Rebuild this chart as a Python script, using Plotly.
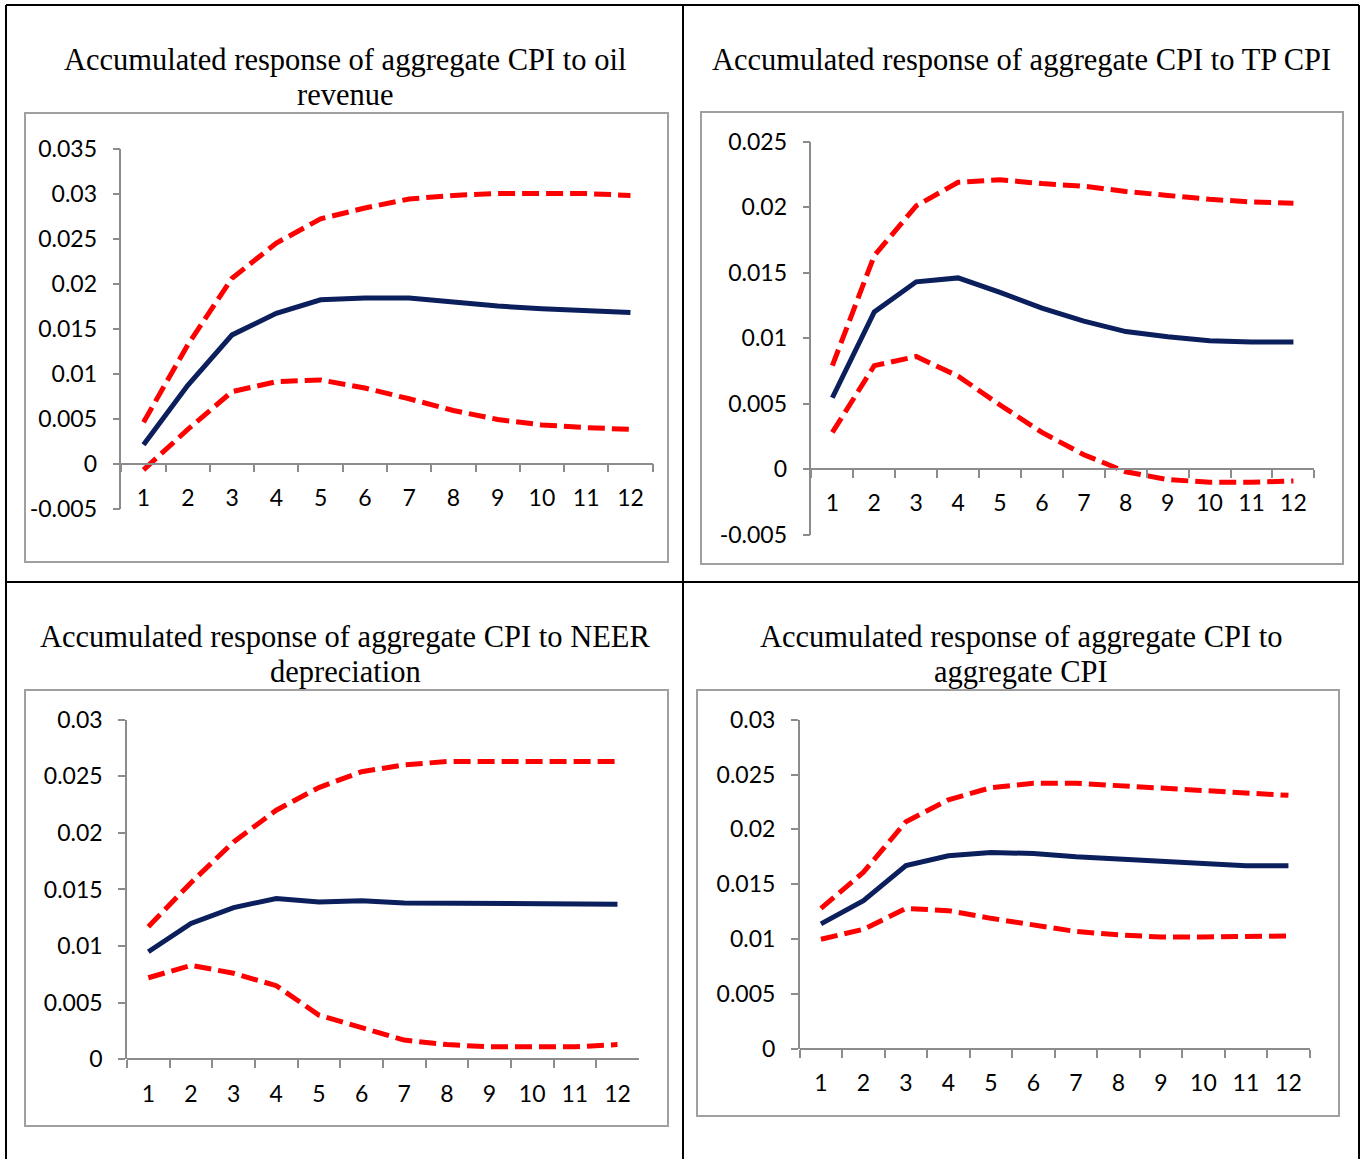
import plotly.graph_objects as go

# ---------------- data ----------------
periods = ["1", "2", "3", "4", "5", "6", "7", "8", "9", "10", "11", "12"]

title_lines = [
    ["Accumulated response of aggregate CPI to oil", "revenue"],
    ["Accumulated response of aggregate CPI to TP CPI"],
    ["Accumulated response of aggregate CPI to NEER", "depreciation"],
    ["Accumulated response of aggregate CPI to", "aggregate CPI"],
]

p1_mid = [0.0021, 0.0087, 0.0143, 0.0167, 0.0182, 0.0184, 0.0184, 0.0179, 0.0175, 0.0172, 0.0170, 0.0168]
p1_up = [0.0046, 0.0132, 0.0206, 0.0245, 0.0272, 0.0284, 0.0294, 0.0298, 0.0300, 0.0300, 0.0300, 0.0298]
p1_lo = [-0.0007, 0.0038, 0.0080, 0.0091, 0.0093, 0.0084, 0.0072, 0.0059, 0.0049, 0.0043, 0.0040, 0.0038]

p2_mid = [0.00545, 0.0120, 0.0143, 0.0146, 0.0135, 0.0123, 0.0113, 0.0105, 0.0101, 0.0098, 0.0097, 0.0097]
p2_up = [0.0079, 0.0163, 0.0201, 0.0219, 0.0221, 0.0218, 0.0216, 0.0212, 0.0209, 0.0206, 0.0204, 0.0203]
p2_lo = [0.0028, 0.0079, 0.0086, 0.0071, 0.0049, 0.0028, 0.0011, -0.0002, -0.0008, -0.0010, -0.0010, -0.0009]

p3_mid = [0.0095, 0.0120, 0.0134, 0.0142, 0.0139, 0.0140, 0.0138, 0.0138, 0.0137, 0.0137, 0.0137, 0.0137]
p3_up = [0.0117, 0.0156, 0.0192, 0.0220, 0.0240, 0.0254, 0.0260, 0.0263, 0.0263, 0.0263, 0.0263, 0.0263]
p3_lo = [0.0072, 0.0083, 0.0076, 0.0065, 0.0039, 0.0028, 0.0017, 0.0013, 0.0011, 0.0011, 0.0011, 0.0013]

p4_mid = [0.0114, 0.0135, 0.0167, 0.0176, 0.0179, 0.0178, 0.0175, 0.0173, 0.0170, 0.0169, 0.0167, 0.0167]
p4_up = [0.0128, 0.0161, 0.0207, 0.0227, 0.0238, 0.0242, 0.0242, 0.0240, 0.0237, 0.0235, 0.0233, 0.0231]
p4_lo = [0.0100, 0.0109, 0.0128, 0.0126, 0.0119, 0.0113, 0.0107, 0.0104, 0.0102, 0.0102, 0.0102, 0.0103]

y1_ticks = [-0.005, 0, 0.005, 0.01, 0.015, 0.02, 0.025, 0.03, 0.035]
y1_text = ["-0.005", "0", "0.005", "0.01", "0.015", "0.02", "0.025", "0.03", "0.035"]
y2_ticks = [-0.005, 0, 0.005, 0.01, 0.015, 0.02, 0.025]
y2_text = ["-0.005", "0", "0.005", "0.01", "0.015", "0.02", "0.025"]
y3_ticks = [0, 0.005, 0.01, 0.015, 0.02, 0.025, 0.03]
y3_text = ["0", "0.005", "0.01", "0.015", "0.02", "0.025", "0.03"]
y4_ticks = [0, 0.005, 0.01, 0.015, 0.02, 0.025, 0.03]
y4_text = ["0", "0.005", "0.01", "0.015", "0.02", "0.025", "0.03"]

# ---------------- layout constants (pixels) ----------------
W, H = 1360, 1159
NAVY = "#0B1F5C"
RED = "#FF0000"
AXIS_GRAY = "#8C8C8C"
BOX_GRAY = "#A0A0A0"
TICK_FONT = dict(family="Lato, 'Noto Sans', sans-serif", size=23, color="black")
TITLE_FONT = dict(family="'Liberation Serif', 'Times New Roman', serif", size=30.5, color="black")

panels = [
    dict(px=(121.4, 652.6, 148.6, 508.6), yr=(-0.005, 0.035), yt=(y1_ticks, y1_text),
         data=(p1_mid, p1_up, p1_lo), title_x=345, title_y=(60, 95), box=(25, 668, 113, 562)),
    dict(px=(811.4, 1314.4, 141.7, 534.6), yr=(-0.005, 0.025), yt=(y2_ticks, y2_text),
         data=(p2_mid, p2_up, p2_lo), title_x=1021, title_y=(60,), box=(701, 1343, 112, 564)),
    dict(px=(127.0, 638.8, 719.6, 1059.3), yr=(0, 0.03), yt=(y3_ticks, y3_text),
         data=(p3_mid, p3_up, p3_lo), title_x=345, title_y=(637, 672), box=(25, 668, 690, 1126)),
    dict(px=(799.7, 1309.7, 719.6, 1049.0), yr=(0, 0.03), yt=(y4_ticks, y4_text),
         data=(p4_mid, p4_up, p4_lo), title_x=1021, title_y=(637, 672), box=(697, 1339, 690, 1116)),
]


def fx(px):
    return px / W


def fy(py):
    return 1 - py / H


fig = go.Figure()
layout = dict(
    width=W, height=H, margin=dict(l=0, r=0, t=0, b=0, pad=0, autoexpand=False),
    paper_bgcolor="white", plot_bgcolor="white", showlegend=False,
    annotations=[], shapes=[],
)

for i, p in enumerate(panels, start=1):
    xl, xr, yt, yb = p["px"]
    ymin, ymax = p["yr"]
    xa = "x" if i == 1 else f"x{i}"
    ya = "y" if i == 1 else f"y{i}"
    mid, up, lo = p["data"]
    for vals, color, dash in ((up, RED, "17px,7px"), (lo, RED, "17px,7px"), (mid, NAVY, "solid")):
        fig.add_trace(go.Scatter(
            x=periods, y=vals, mode="lines", xaxis=xa, yaxis=ya,
            line=dict(color=color, width=5, dash=dash), hoverinfo="skip",
        ))
    ydom = [fy(yb), fy(yt)]
    zero_pos = ydom[0] + (0 - ymin) / (ymax - ymin) * (ydom[1] - ydom[0])
    layout["xaxis" if i == 1 else f"xaxis{i}"] = dict(
        domain=[fx(xl), fx(xr)], type="category", categoryorder="array", categoryarray=periods,
        range=[-0.5, len(periods) - 0.5], anchor="free", position=zero_pos,
        tickson="boundaries", ticks="outside", ticklen=8, tickwidth=1.5, tickcolor=AXIS_GRAY,
        showline=True, linecolor=AXIS_GRAY, linewidth=1.5, showgrid=False, zeroline=False,
        tickfont=TICK_FONT, ticklabelstandoff=14, fixedrange=True, automargin=False,
    )
    layout["yaxis" if i == 1 else f"yaxis{i}"] = dict(
        domain=ydom, range=[ymin, ymax], anchor=xa,
        tickmode="array", tickvals=p["yt"][0], ticktext=p["yt"][1],
        ticks="outside", ticklen=7, tickwidth=1.5, tickcolor=AXIS_GRAY,
        showline=True, linecolor=AXIS_GRAY, linewidth=1.5, showgrid=False, zeroline=False,
        tickfont=TICK_FONT, ticklabelstandoff=11, fixedrange=True, automargin=False,
    )
    bx0, bx1, by0, by1 = p["box"]
    layout["shapes"].append(dict(
        type="rect", xref="paper", yref="paper", x0=fx(bx0), x1=fx(bx1), y0=fy(by1), y1=fy(by0),
        line=dict(color=BOX_GRAY, width=2), layer="below",
    ))
    for line_text, ty in zip(title_lines[i - 1], p["title_y"]):
        layout["annotations"].append(dict(
            text=line_text, xref="paper", yref="paper", x=fx(p["title_x"]), y=fy(ty),
            xanchor="center", yanchor="middle", showarrow=False, font=TITLE_FONT,
        ))

for x0, y0, x1, y1 in ((6, 5, 1359, 5), (6, 5, 6, 1159), (1359, 5, 1359, 1159),
                       (683, 5, 683, 1159), (6, 582, 1359, 582)):
    layout["shapes"].append(dict(
        type="line", xref="paper", yref="paper", x0=fx(x0), y0=fy(y0), x1=fx(x1), y1=fy(y1),
        line=dict(color="black", width=2),
    ))

fig.update_layout(**layout)
fig.write_html("out.html", post_script="document.body.style.margin='0';",
               config={"displayModeBar": False})
